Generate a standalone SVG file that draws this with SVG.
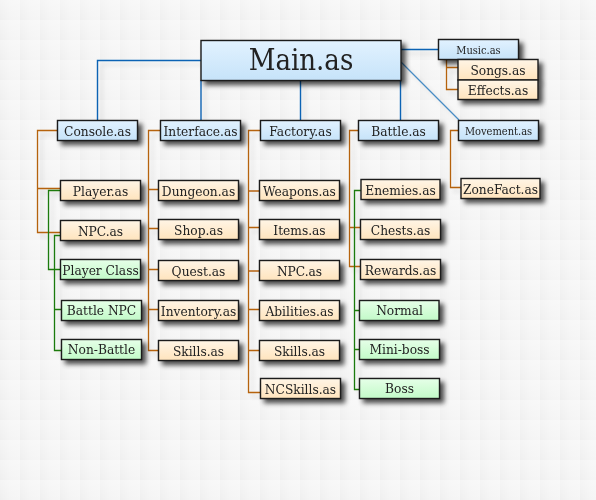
<svg xmlns="http://www.w3.org/2000/svg" width="596" height="500" viewBox="0 0 596 500">
<defs>
  <linearGradient id="tileH" x1="0" y1="0" x2="1" y2="0">
    <stop offset="0" stop-color="#efefef"/>
    <stop offset="0.5" stop-color="#f4f4f4"/>
    <stop offset="1" stop-color="#f6f6f6"/>
  </linearGradient>
  <linearGradient id="tileV" x1="0" y1="0" x2="0" y2="1">
    <stop offset="0" stop-color="#ffffff" stop-opacity="0.35"/>
    <stop offset="1" stop-color="#ffffff" stop-opacity="0"/>
  </linearGradient>
  <pattern id="grid" x="0" y="0" width="20" height="20" patternUnits="userSpaceOnUse">
    <rect width="20" height="20" fill="url(#tileH)"/>
    <rect width="20" height="20" fill="url(#tileV)"/>
  </pattern>
  <linearGradient id="gBlue" x1="0" y1="0" x2="0" y2="1">
    <stop offset="0" stop-color="#e2f2ff"/>
    <stop offset="1" stop-color="#c6e3f9"/>
  </linearGradient>
  <linearGradient id="gOrange" x1="0" y1="0" x2="0" y2="1">
    <stop offset="0" stop-color="#fff5e6"/>
    <stop offset="1" stop-color="#ffe4bd"/>
  </linearGradient>
  <linearGradient id="gGreen" x1="0" y1="0" x2="0" y2="1">
    <stop offset="0" stop-color="#e6ffe8"/>
    <stop offset="1" stop-color="#c2fac8"/>
  </linearGradient>
  <filter id="shadow" x="-20%" y="-30%" width="150%" height="190%">
    <feGaussianBlur in="SourceAlpha" stdDeviation="2.4"/>
    <feOffset dx="4" dy="4" result="b"/>
    <feComponentTransfer><feFuncA type="linear" slope="0.7"/></feComponentTransfer>
    <feMerge><feMergeNode/><feMergeNode in="SourceGraphic"/></feMerge>
  </filter>
  <filter id="lshadow" x="-10%" y="-10%" width="130%" height="130%">
    <feGaussianBlur in="SourceAlpha" stdDeviation="2"/>
    <feOffset dx="4" dy="4" result="b"/>
    <feComponentTransfer><feFuncA type="linear" slope="0.12"/></feComponentTransfer>
    <feMerge><feMergeNode/><feMergeNode in="SourceGraphic"/></feMerge>
  </filter>
</defs>
<style>
  .box rect { stroke: #1a1a1a; stroke-width: 1.4; }
  .blue rect { fill: url(#gBlue); }
  .orange rect { fill: url(#gOrange); }
  .green rect { fill: url(#gGreen); }
  .box { filter: url(#shadow); }
  text { font-family: "DejaVu Serif", "Liberation Serif", serif; font-stretch: condensed; font-size: 13.6px; fill: #222; text-anchor: middle; }
  .small { font-size: 11px; }
  .big { font-size: 29px; }
  .c { fill: none; stroke-width: 1.3; }
  .cb { stroke: #0a64b4; stroke-width: 1.4; }
  .co { stroke: #b5620a; }
  .cg { stroke: #1f7a10; }
</style>
<rect width="596" height="500" fill="url(#grid)"/>

<g id="connectors" filter="url(#lshadow)">
  <path class="c cb" d="M201 60.5H97.5V120M201 80V120M300.5 80V120M400.5 80V120M401 49.5H438"/>
  <path class="c" stroke="#4a8cc4" stroke-width="1" d="M401 62L459 120"/>
  <path class="c co" d="M57 130.5H37.5V232.5H60M37.5 188.5H60"/>
  <path class="c co" d="M160 130.5H148.5V350.5H158M148.5 189.5H158M148.5 228.5H158M148.5 269.5H158M148.5 309.5H158"/>
  <path class="c co" d="M260 130.5H248.5V392.5H260M248.5 191H259M248.5 227.5H259M248.5 271H259M248.5 309.5H259M248.5 350.5H259"/>
  <path class="c co" d="M358 130.5H349.5V266.5H360M349.5 227.5H360"/>
  <path class="c co" d="M446.5 59V89.5H458M446.5 67.5H458"/>
  <path class="c co" d="M458 130.5H450.5V187.5H461"/>
  <path class="c cg" d="M60 190.5H48.5V269.5H60"/>
  <path class="c cg" d="M60 235.5H54.5V350.5H61M54.5 309.5H61"/>
  <path class="c cg" d="M361 190.5H354.5V389.5H359M354.5 310.5H359M354.5 349.5H359"/>
</g>

<g id="main" class="box blue"><rect x="201" y="40.5" width="200" height="40"/><text class="big" x="301" y="70">Main.as</text></g>
<g id="music" class="box blue"><rect x="438.5" y="39.5" width="80" height="20"/><text class="small" x="478.5" y="54">Music.as</text></g>
<g id="songs" class="box orange"><rect x="458" y="59.5" width="80" height="20.5"/><text x="498" y="75">Songs.as</text></g>
<g id="effects" class="box orange"><rect x="458" y="80" width="80" height="19.5"/><text x="498" y="95">Effects.as</text></g>

<g id="console" class="box blue"><rect x="57.5" y="120.5" width="80" height="20"/><text x="97.5" y="135.5">Console.as</text></g>
<g id="interface" class="box blue"><rect x="160.5" y="120.5" width="80" height="20"/><text x="200.5" y="135.5">Interface.as</text></g>
<g id="factory" class="box blue"><rect x="260.5" y="120.5" width="80" height="20"/><text x="300.5" y="135.5">Factory.as</text></g>
<g id="battle" class="box blue"><rect x="358.5" y="120.5" width="80" height="20"/><text x="398.5" y="135.5">Battle.as</text></g>
<g id="movement" class="box blue"><rect x="458.5" y="120.5" width="80" height="20"/><text class="small" x="498.5" y="134.5">Movement.as</text></g>
<g id="zonefact" class="box orange"><rect x="461" y="178.5" width="79" height="20"/><text x="500.5" y="193.5">ZoneFact.as</text></g>

<g id="player" class="box orange"><rect x="60.5" y="180.5" width="80" height="20"/><text x="100.5" y="195.5">Player.as</text></g>
<g id="npc1" class="box orange"><rect x="60.5" y="220.5" width="80" height="20"/><text x="100.5" y="235.5">NPC.as</text></g>
<g id="playerclass" class="box green"><rect x="60.5" y="259.5" width="80" height="20"/><text x="100.5" y="274.5">Player Class</text></g>
<g id="battlenpc" class="box green"><rect x="61.5" y="300.5" width="80" height="20"/><text x="101.5" y="315">Battle NPC</text></g>
<g id="nonbattle" class="box green"><rect x="61.5" y="339.5" width="80" height="20"/><text x="101.5" y="354">Non-Battle</text></g>

<g id="dungeon" class="box orange"><rect x="158.5" y="180.5" width="80" height="20"/><text x="198.5" y="195.5">Dungeon.as</text></g>
<g id="shop" class="box orange"><rect x="158.5" y="219.5" width="80" height="20"/><text x="198.5" y="234.5">Shop.as</text></g>
<g id="quest" class="box orange"><rect x="158.5" y="260.5" width="80" height="20"/><text x="198.5" y="275.5">Quest.as</text></g>
<g id="inventory" class="box orange"><rect x="158.5" y="300.5" width="80" height="20"/><text x="198.5" y="315.5">Inventory.as</text></g>
<g id="skills1" class="box orange"><rect x="158.5" y="340.5" width="80" height="20"/><text x="198.5" y="355.5">Skills.as</text></g>

<g id="weapons" class="box orange"><rect x="259.5" y="180.5" width="80" height="20"/><text x="299.5" y="195.5">Weapons.as</text></g>
<g id="items" class="box orange"><rect x="259.5" y="219.5" width="80" height="20"/><text x="299.5" y="234.5">Items.as</text></g>
<g id="npc2" class="box orange"><rect x="259.5" y="260.5" width="80" height="20"/><text x="299.5" y="275.5">NPC.as</text></g>
<g id="abilities" class="box orange"><rect x="259.5" y="300.5" width="80" height="20"/><text x="299.5" y="315.5">Abilities.as</text></g>
<g id="skills2" class="box orange"><rect x="259.5" y="340.5" width="80" height="20"/><text x="299.5" y="355.5">Skills.as</text></g>
<g id="ncskills" class="box orange"><rect x="260.5" y="378.5" width="80" height="20"/><text x="300.5" y="393.5">NCSkills.as</text></g>

<g id="enemies" class="box orange"><rect x="361" y="179.5" width="79" height="20"/><text x="400.5" y="194.5">Enemies.as</text></g>
<g id="chests" class="box orange"><rect x="360.5" y="219.5" width="80" height="20"/><text x="400.5" y="234.5">Chests.as</text></g>
<g id="rewards" class="box orange"><rect x="360.5" y="259.5" width="80" height="20"/><text x="400.5" y="274.5">Rewards.as</text></g>
<g id="normal" class="box green"><rect x="359.5" y="300.5" width="79.5" height="20"/><text x="399.5" y="315">Normal</text></g>
<g id="miniboss" class="box green"><rect x="359.5" y="339.5" width="80" height="20"/><text x="399.5" y="354">Mini-boss</text></g>
<g id="boss" class="box green"><rect x="359.5" y="378.5" width="80" height="20"/><text x="399.5" y="393">Boss</text></g>
</svg>
